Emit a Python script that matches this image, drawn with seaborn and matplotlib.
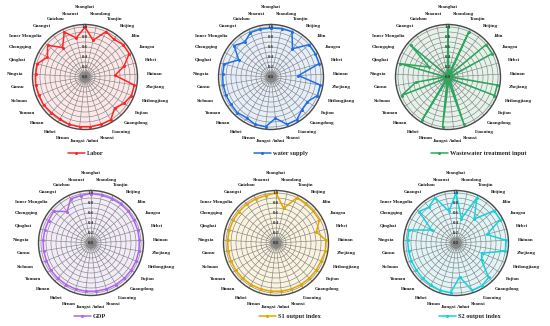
import numpy as np
import pandas as pd
import matplotlib
matplotlib.use("Agg")
import matplotlib.pyplot as plt
import seaborn as sns

categories = ["Shanghai", "Shandong", "Tianjin", "Beijing", "Jilin", "Jiangsu", "Hebei",
              "Hainan", "Zhejiang", "Heilongjiang", "Fujian", "Guangdong", "Liaoning",
              "Shanxi", "Anhui", "Jiangxi", "Henan", "Hubei", "Hunan", "Yunnan", "Sichuan",
              "Gansu", "Ningxia", "Qinghai", "Chongqing", "Inner Mongolia", "Guangxi",
              "Guizhou", "Shaanxi"]

labor = [1.0, 0.75, 1.0, 0.95, 1.0, 1.0, 0.81, 0.6, 1.0, 1.0, 0.94, 0.86, 1.0, 1.0, 1.0,
         1.0, 1.0, 0.98, 0.98, 1.0, 0.99, 1.0, 0.99, 0.99, 0.85, 0.98, 0.74, 0.99, 0.8]
water_supply = [0.98, 0.99, 1.0, 0.71, 1.0, 1.0, 1.0, 0.55, 1.0, 1.0, 0.88, 0.9, 1.0, 1.0,
                0.83, 1.0, 1.0, 0.95, 0.98, 0.97, 0.97, 0.97, 0.97, 0.97, 0.73, 0.97, 0.87,
                0.98, 0.98]
wastewater = [1.0, 0.06, 1.0, 0.06, 1.0, 1.0, 0.08, 0.05, 1.0, 1.0, 0.06, 0.05, 0.08, 1.0,
              0.1, 1.0, 0.06, 1.0, 0.05, 0.05, 1.0, 0.65, 0.06, 1.0, 0.42, 0.98, 0.06, 0.05,
              0.06]
gdp = [0.99, 0.98, 0.98, 0.98, 0.98, 0.97, 0.97, 0.97, 0.97, 0.97, 0.97, 0.97, 0.97, 0.97,
       0.97, 0.97, 0.97, 0.97, 0.97, 0.97, 0.96, 0.96, 0.96, 0.96, 0.96, 0.98, 0.79, 0.97,
       0.97]
s1_index = [1.0, 0.71, 1.0, 0.98, 0.98, 0.98, 0.84, 1.0, 1.0, 0.97, 0.97, 0.97, 0.97, 0.97,
            0.97, 0.97, 0.97, 0.97, 0.97, 0.97, 0.97, 0.97, 0.97, 0.97, 0.97, 0.97, 0.97,
            0.97, 0.97]
s2_index = [1.0, 0.5, 1.0, 0.6, 1.0, 1.0, 0.64, 1.0, 1.0, 0.55, 0.62, 0.95, 1.0, 1.0, 0.68,
            1.0, 1.0, 0.98, 0.97, 0.96, 0.96, 0.96, 0.97, 0.98, 0.55, 0.97, 0.9, 1.0, 0.65]

series_names = ["Labor", "water supply", "Wastewater treatment input", "GDP",
                "S1 output index", "S2 output index"]
series_values = [labor, water_supply, wastewater, gdp, s1_index, s2_index]
line_colors = ["#ff2626", "#1f6fe5", "#2ea55c", "#b064f0", "#e3a600", "#14d2e0"]
bg_colors = ["#fce8e8", "#e5eef9", "#e4f2ea", "#f1ecf7", "#faf3df", "#e1f4f6"]
r_ticks = [0.0, 0.2, 0.4, 0.6, 0.8, 1.0]

sns.set_theme(style="white")
plt.rcParams["font.family"] = ["Liberation Serif", "DejaVu Serif"]

W, H = 550, 326
fig = plt.figure(figsize=(W / 100, H / 100), dpi=100)

centers = [(85, 77), (271, 77), (448, 77), (91, 243), (276, 243), (456, 243)]
legend_dy = [76, 76, 76, 73, 73, 73]
R = 52.5
RMAX = 1.05

n = len(categories)
theta = np.linspace(0, 2 * np.pi, n, endpoint=False)

annotations = []
for i, (name, vals) in enumerate(zip(series_names, series_values)):
    cx, cy = centers[i]
    ax = fig.add_axes([(cx - R) / W, (H - cy - R) / H, 2 * R / W, 2 * R / H],
                      projection="polar")
    ax.set_theta_zero_location("N")
    ax.set_theta_direction(-1)
    ax.set_facecolor(bg_colors[i])

    # grey radial glow in the centre
    tt = np.linspace(0, 2 * np.pi, 120)
    for k in range(18):
        rr = 0.16 * (1 - k / 18)
        ax.fill_between(tt, 0, rr, color="#7a7a7a", alpha=0.07, lw=0, zorder=1)

    df = pd.DataFrame({"theta": np.append(theta, 2 * np.pi),
                       "value": np.append(vals, vals[0])})
    sns.lineplot(data=df, x="theta", y="value", ax=ax, sort=False, estimator=None,
                 color=line_colors[i], lw=1.1, marker="o", markersize=2.2,
                 markeredgewidth=0, label=name, zorder=5)

    ax.set_ylim(0, RMAX)
    ax.set_xticks(theta)
    ax.set_xticklabels([])
    ax.set_yticks(np.arange(0.1, 1.001, 0.1))
    ax.set_yticklabels([])
    ax.set_xlabel("")
    ax.set_ylabel("")
    ax.grid(True, color="#858585", lw=0.45)
    ax.spines["polar"].set_color("#4a4a4a")
    ax.spines["polar"].set_linewidth(1.0)

    for v in r_ticks:
        ax.text(0, v, f"{v:.1f}", ha="center", va="center", fontsize=3.5,
                fontweight="bold", color="#333333", zorder=6)

    for th, cat in zip(theta, categories):
        a = ax.annotate(cat, xy=(th, 1.24), xytext=(0, 0), textcoords="offset pixels",
                        ha="center", va="center", fontsize=3.5, fontweight="bold",
                        color="#1a1a1a", annotation_clip=False)
        annotations.append((a, th))

    ax.legend(loc="center left", bbox_to_anchor=(0.5 - 17 / (2 * R), 0.5 - legend_dy[i] / (2 * R)),
              frameon=False, prop={"weight": "bold", "size": 4.6}, handlelength=2.6,
              handletextpad=0.3, borderpad=0, borderaxespad=0)

fig.canvas.draw()
renderer = fig.canvas.get_renderer()
for a, th in annotations:
    bb = a.get_window_extent(renderer)
    extra = 6.0 if np.cos(th) > 0.99 else 0.0
    a.xyann = (bb.width / 2 * np.sin(th), bb.height / 2 * np.cos(th) + extra)

fig.savefig("out.png", dpi=100)
